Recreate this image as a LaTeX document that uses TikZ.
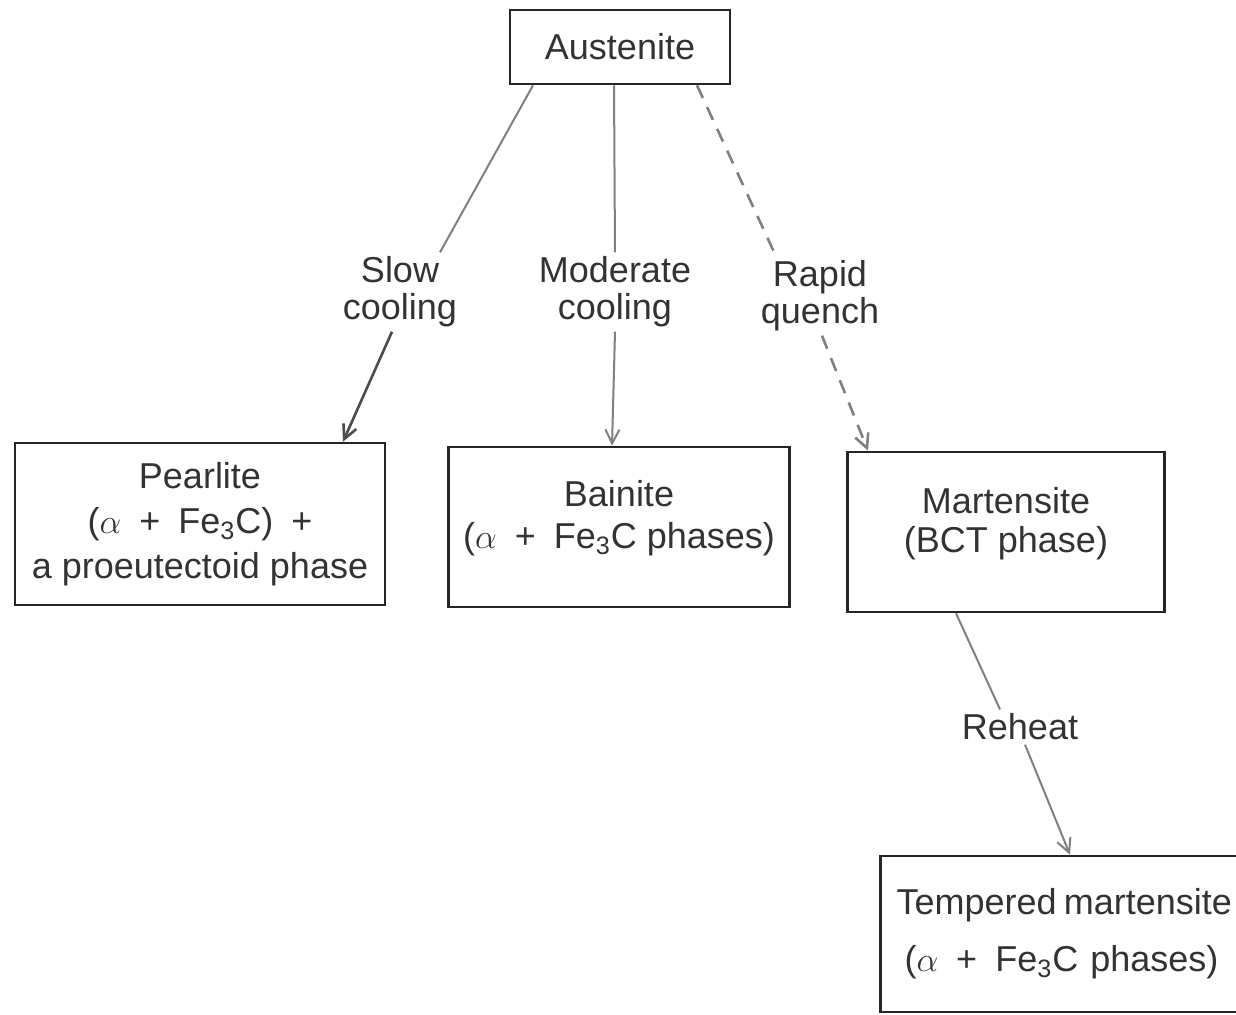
\documentclass[tikz,border=0pt]{standalone}
\usepackage{fontspec}
\setmainfont{Liberation Sans}
\usetikzlibrary{arrows.meta}
\begin{document}
\begin{tikzpicture}[x=0.5pt,y=-0.5pt,
  phase/.style={draw=black!85,line width=1.3pt,align=center,text=black!80,font=\fontsize{18}{18.5}\selectfont},
  route/.style={text=black!80,align=center,inner sep=2pt,font=\fontsize{18}{18.5}\selectfont},
  cool/.style={draw=black!50,line width=1pt},
  arrowed/.style={-{Straight Barb[length=7pt,width=7pt]}}]
\useasboundingbox (0,0) rectangle (1236,1014);
\node (aus) at (620,47) [phase,minimum width=110pt,minimum height=37pt] {Austenite};
\node (pear) at (200,524) [phase,minimum width=185pt,minimum height=81pt] {Pearlite\\[4pt]($\alpha$\enspace+\enspace Fe\textsubscript{3}C)\enspace+\\[4pt]a proeutectoid phase};
\node (bain) at (619,527) [phase,minimum width=170.5pt,minimum height=80pt] {Bainite\\[2.5pt]($\alpha$\enspace+\enspace Fe\textsubscript{3}C phases)\\[-6pt]\mbox{}};
\node (mart) at (1006,532) [phase,minimum width=158.5pt,minimum height=80pt] {Martensite\\[1pt](BCT phase)\\[-6pt]\mbox{}};
\node (temp) at (1085,934) [phase,align=left,text width=188.5pt,inner xsep=8pt,minimum height=78pt] {\mbox{Tempered\hspace{0.2em}martensite}\\[10pt]\hspace{4pt}($\alpha$\enspace+\enspace Fe\textsubscript{3}C phases)};
% cooling routes
\node (slow) at (400,292) [route] {Slow\\cooling};
\node (mod) at (615,292) [route] {Moderate\\cooling};
\node (rap) at (820,296) [route] {Rapid\\quench};
\node (reh) at (1020,727) [route] {Reheat};
\draw[cool] ([xshift=-43.5pt]aus.south) -- ([xshift=20pt]slow.north);
\draw[cool,arrowed,draw=black!70,line width=1.3pt] ([xshift=-4pt]slow.south) -- ([xshift=71.5pt]pear.north);
\draw[cool] ([xshift=-3pt]aus.south) -- (mod.north);
\draw[cool,arrowed] (mod.south) -- ([xshift=-3.5pt]bain.north);
\draw[cool,dash pattern=on 7pt off 5pt,line width=1.3pt] ([xshift=38.5pt]aus.south) -- ([xshift=-22pt]rap.north);
\draw[cool,arrowed,dash pattern=on 7pt off 5pt,line width=1.3pt] ([xshift=1pt]rap.south) -- ([xshift=-69pt]mart.north);
\draw[cool] ([xshift=-25pt]mart.south) -- ([xshift=-10pt]reh.north);
\draw[cool,arrowed] ([xshift=2.5pt]reh.south) -- ([xshift=-7.5pt]temp.north);
\end{tikzpicture}
\end{document}
